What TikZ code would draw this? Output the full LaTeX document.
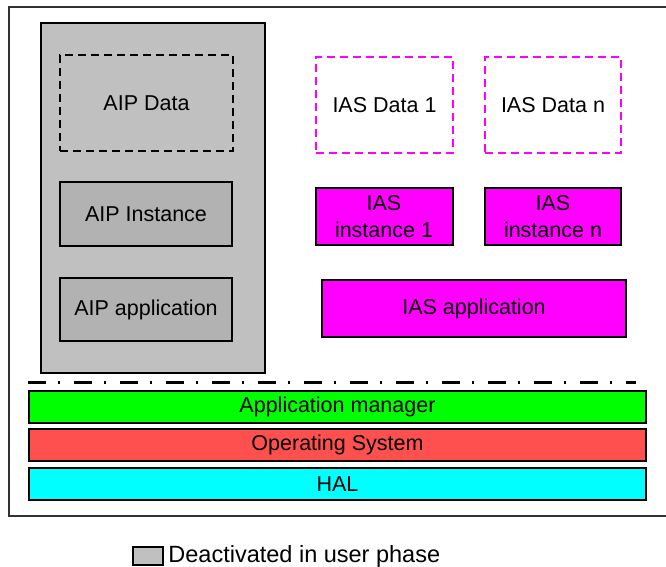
\documentclass[tikz,border=0pt]{standalone}
\usepackage{fontspec}
\setmainfont{Liberation Sans}
\usetikzlibrary{positioning}
\definecolor{deact}{HTML}{C0C0C0}
\definecolor{deactin}{HTML}{B2B2B2}
\definecolor{iasmag}{HTML}{FF00FF}
\definecolor{mgrgreen}{HTML}{00FF00}
\definecolor{osred}{HTML}{FF5050}
\definecolor{halcyan}{HTML}{00FFFF}
\begin{document}
\begin{tikzpicture}[x=1pt,y=-1pt,font=\fontsize{21.5}{27}\selectfont]
				\tikzset{box/.style={draw,rectangle,line width=2pt,inner sep=0pt,align=center},
					aipbox/.style={box,fill=deactin,minimum width=172pt,minimum height=64pt},
					iasdatabox/.style={box,draw=iasmag,dash pattern=on 8pt off 5pt,line width=2.2pt,minimum width=137pt,minimum height=96pt},
					iasbox/.style={box,fill=iasmag,minimum width=137pt,minimum height=57pt},
					layer/.style={box,minimum width=617pt,minimum height=32pt}
				}
				\useasboundingbox (0,0) rectangle (666,567);
				\clip (0,0) rectangle (666,567);
				\draw[line width=1.2pt,black!80] (700,7)--(9,7)--(9,516)--(700,516);
				% left part, off in user phase
				\node[box,fill=deact,line width=2.5pt,minimum width=224pt,minimum height=350pt] (aip) at (153,198) {};
				\node[box,dash pattern=on 8pt off 5pt,line width=2.4pt,minimum width=173pt,minimum height=96pt] (aipdata) at (146.5,103) {AIP Data};
				\node[aipbox] (aipinst) at (146,214) {AIP Instance};
				\node[aipbox,minimum height=63pt] (aipapp) at (146,309.5) {AIP application};
				% right part
				\node[iasdatabox] (iasdata1) at (384.5,105) {IAS Data 1};
				\node[iasdatabox,minimum width=136pt] (iasdatan) at (553,105) {IAS Data n};
				\node[iasbox] (iasinst1) at (384,216.5) {IAS\\instance 1};
				\node[iasbox,minimum width=136pt] (iasinstn) at (553,216.5) {IAS\\instance n};
				\node[iasbox,minimum width=304pt] (iasapp) at (474,308.5) {IAS application};
				% layers
				\coordinate (sepl) at (28,382);
				\coordinate (sepr) at (636,382);
				\draw[line width=3pt,dash pattern=on 18pt off 12pt on 2pt off 14pt] (sepl)--(sepr);
				\node[layer,fill=mgrgreen] (appmgr) at (337.5,407) {Application manager};
				\node[layer,fill=osred] (os) at (337.5,445) {Operating System};
				\node[layer,fill=halcyan] (hal) at (337.5,484) {HAL};
				% legend
				\node[box,fill=deact,line width=2.5pt,minimum width=30pt,minimum height=18pt] (leg) at (148,556) {};
				\node[right=4pt of leg,inner sep=0pt,font=\fontsize{23.5}{27}\selectfont] (legtxt) {Deactivated in user phase};
\end{tikzpicture}
\end{document}
